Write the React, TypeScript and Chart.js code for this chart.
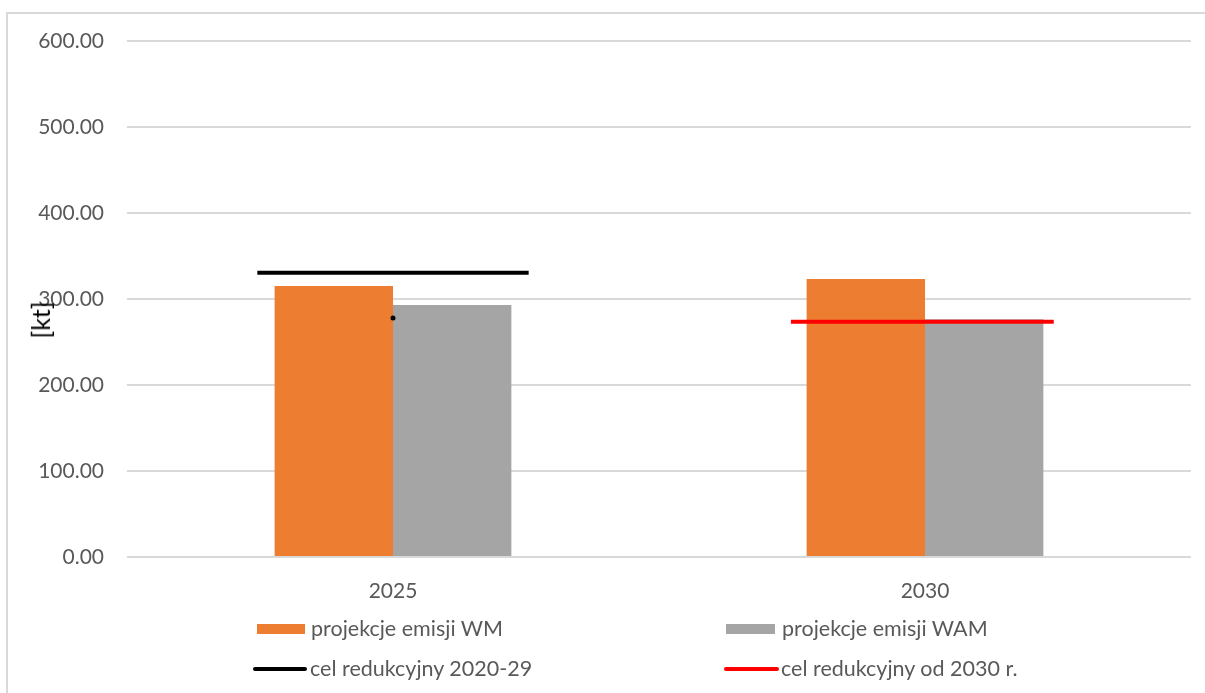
import React, { useEffect, useRef } from "react";
import { Chart, registerables } from "chart.js";

Chart.register(...registerables);

const categories = ["2025", "2030"];
const wmValues = [315.1, 323.3];
const wamValues = [293.0, 276.4];
const targetValues = [330.6, 273.6];
const dotValue = 278;
const yTicks = [0, 100, 200, 300, 400, 500, 600];

const seriesLabels = {
  wm: "projekcje emisji WM",
  wam: "projekcje emisji WAM",
  t1: "cel redukcyjny 2020-29",
  t2: "cel redukcyjny od 2030 r.",
};

const FONT = "Lato, 'Open Sans', sans-serif";
const targetColors = ["#000000", "#FF0000"];
const targetHalfWidths = [0.51, 0.494]; // fraction of category width (each side)
const targetCenterShift = [0, -0.005];

const targetsPlugin = {
  id: "targets",
  afterDatasetsDraw(chart: any) {
    const x = chart.scales.x;
    const y = chart.scales.y;
    const ctx = chart.ctx;
    const catW = x.getPixelForValue(1) - x.getPixelForValue(0);
    ctx.save();
    targetValues.forEach((v, i) => {
      const cx = x.getPixelForValue(i) + targetCenterShift[i] * catW;
      const hw = (targetHalfWidths[i] * catW) / 2;
      const py = y.getPixelForValue(v);
      ctx.beginPath();
      ctx.strokeStyle = targetColors[i];
      ctx.lineWidth = 4;
      ctx.lineCap = "butt";
      ctx.moveTo(cx - hw, py);
      ctx.lineTo(cx + hw, py);
      ctx.stroke();
    });
    const dx = x.getPixelForValue(0);
    const dy = y.getPixelForValue(dotValue);
    ctx.beginPath();
    ctx.fillStyle = "#000";
    ctx.arc(dx, dy, 2.5, 0, Math.PI * 2);
    ctx.fill();
    ctx.restore();
  },
};

export default function App() {
  const ref = useRef<HTMLCanvasElement>(null);

  useEffect(() => {
    if (!ref.current) return;
    const chart = new Chart(ref.current, {
      type: "bar",
      data: {
        labels: categories,
        datasets: [
          {
            label: seriesLabels.wm,
            data: wmValues,
            backgroundColor: "#ED7D31",
            categoryPercentage: 0.445,
            barPercentage: 1,
          },
          {
            label: seriesLabels.wam,
            data: wamValues,
            backgroundColor: "#A5A5A5",
            categoryPercentage: 0.445,
            barPercentage: 1,
          },
        ],
      },
      options: {
        animation: false,
        responsive: false,
        maintainAspectRatio: false,
        layout: { padding: { left: 0, top: 41, right: 14, bottom: 86 } },
        plugins: {
          legend: { display: false },
          tooltip: { enabled: false },
        },
        scales: {
          x: {
            type: "category",
            offset: true,
            grid: { display: false, drawTicks: false },
            border: { display: false },
            ticks: {
              color: "#595959",
              font: { family: FONT, size: 21 },
              padding: 22,
            },
            afterFit: (s: any) => {
              s.height = 50;
            },
          },
          y: {
            min: 0,
            max: 600,
            afterBuildTicks: (s: any) => {
              s.ticks = yTicks.map((v) => ({ value: v }));
            },
            grid: { color: "#D9D9D9", lineWidth: 2, drawTicks: false },
            border: { display: false },
            ticks: {
              color: "#595959",
              font: { family: FONT, size: 21 },
              padding: 23,
              callback: (v: any) => Number(v).toFixed(2),
            },
            afterFit: (s: any) => {
              s.width = 127;
            },
          },
        },
      } as any,
      plugins: [targetsPlugin],
    });
    return () => chart.destroy();
  }, []);

  const legendText: React.CSSProperties = {
    position: "absolute",
    fontFamily: FONT,
    fontSize: 21.5,
    color: "#595959",
    lineHeight: "22px",
    whiteSpace: "nowrap",
  };

  return (
    <div
      style={{
        position: "fixed",
        left: 0,
        top: 0,
        width: 1205,
        height: 693,
        background: "#fff",
        overflow: "hidden",
      }}
    >
      <div
        style={{
          position: "absolute",
          left: 6,
          top: 12,
          width: 1220,
          height: 700,
          border: "2px solid #D9D9D9",
          boxSizing: "border-box",
        }}
      />
      <canvas
        ref={ref}
        width={1205}
        height={693}
        style={{ position: "absolute", left: 0, top: 0, width: 1205, height: 693 }}
      />
      <div
        style={{
          position: "absolute",
          left: 40,
          top: 320,
          transform: "translate(-50%, -50%) rotate(-90deg)",
          fontFamily: FONT,
          fontSize: 25,
          color: "#000",
          whiteSpace: "nowrap",
        }}
      >
        [kt]
      </div>
      <div style={{ position: "absolute", left: 257, top: 624, width: 48, height: 10, background: "#ED7D31" }} />
      <div style={{ ...legendText, left: 311, top: 617 }}>{seriesLabels.wm}</div>
      <div style={{ position: "absolute", left: 726, top: 624, width: 49, height: 10, background: "#A5A5A5" }} />
      <div style={{ ...legendText, left: 782, top: 617 }}>{seriesLabels.wam}</div>
      <div style={{ position: "absolute", left: 253, top: 667, width: 54, height: 4, borderRadius: 2, background: "#000" }} />
      <div style={{ ...legendText, left: 310, top: 657 }}>{seriesLabels.t1}</div>
      <div style={{ position: "absolute", left: 724, top: 667, width: 55, height: 4, borderRadius: 2, background: "#FF0000" }} />
      <div style={{ ...legendText, left: 781, top: 657 }}>{seriesLabels.t2}</div>
    </div>
  );
}
